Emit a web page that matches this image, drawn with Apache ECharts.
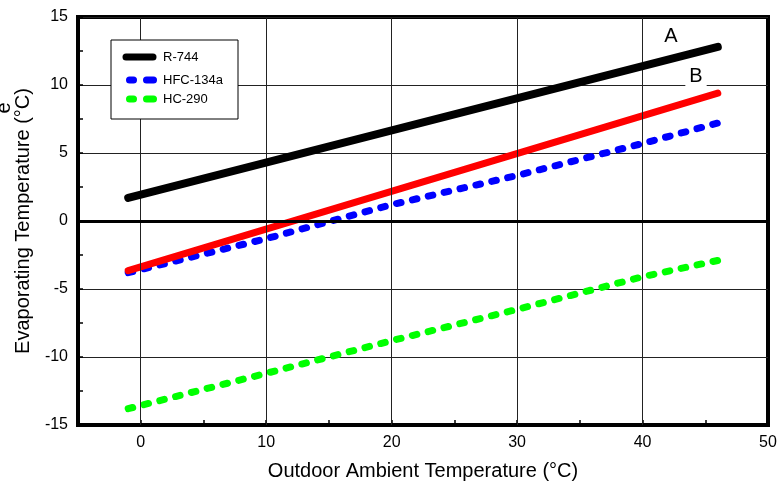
<!DOCTYPE html>
<html>
<head>
<meta charset="utf-8">
<script src="https://cdn.jsdelivr.net/npm/echarts@6/dist/echarts.min.js"></script>
<style>
  html, body { margin: 0; padding: 0; background: #fff; }
  #chart { width: 783px; height: 487px; }
</style>
</head>
<body>
<div id="chart"></div>
<script>
// Outdoor ambient temperature (°C) vs. evaporating temperature (°C)
const r744X = [-1, 46];
const r744Y = [1.7, 12.8];
const curveBX = [-1, 46];
const curveBY = [-3.65, 9.4];
const hfc134aX = [-1, 10, 20, 30, 40, 46];
const hfc134aY = [-3.8, -1.3, 1.2, 3.35, 5.7, 7.2];
const hc290X = [-1, 10, 20, 30, 40, 46];
const hc290Y = [-13.8, -11.2, -8.8, -6.5, -4.1, -2.9];

const xGridValues = [0, 10, 20, 30, 40];
const yZeroLine = 0;
const legendNames = ['R-744', 'HFC-134a', 'HC-290'];
const curveLabels = ['A', 'B'];

const FONT = "'Liberation Sans', Arial, sans-serif";
const pairs = (xs, ys) => xs.map((x, i) => [x, ys[i]]);

const chart = echarts.init(document.getElementById('chart'), null, { renderer: 'canvas' });

const dotted = [4.7, 11.6];

chart.setOption({
  animation: false,
  backgroundColor: '#fff',
  grid: {
    left: 78, right: 15, top: 17, bottom: 62,
    show: true, borderColor: '#000', borderWidth: 4, backgroundColor: 'transparent'
  },
  xAxis: {
    type: 'value', min: -5, max: 50, interval: 5,
    name: 'Outdoor Ambient Temperature (°C)',
    nameLocation: 'middle', nameGap: 36,
    nameTextStyle: { fontFamily: FONT, fontSize: 20, color: '#000' },
    axisLine: { show: true, onZero: false, lineStyle: { color: '#000', width: 4 } },
    axisTick: { show: true, inside: true, length: 5, lineStyle: { color: '#000', width: 1.5 } },
    axisLabel: {
      fontFamily: FONT, fontSize: 16, color: '#000', margin: 10,
      formatter: v => (v % 10 === 0 && v >= 0) ? String(v) : ''
    },
    splitLine: { show: false }
  },
  yAxis: {
    type: 'value', min: -15, max: 15, interval: 5,
    name: 'Evaporating Temperature (°C)',
    nameLocation: 'middle', nameGap: 45,
    nameTextStyle: { fontFamily: FONT, fontSize: 20, color: '#000' },
    axisLine: { show: true, onZero: false, lineStyle: { color: '#000', width: 4 } },
    axisTick: { show: true, inside: true, length: 5, lineStyle: { color: '#000', width: 1.5 } },
    minorTick: { show: true, splitNumber: 2, length: 5, lineStyle: { color: '#000', width: 1.5 } },
    axisLabel: { fontFamily: FONT, fontSize: 16, color: '#000', margin: 10 },
    splitLine: { show: true, lineStyle: { color: '#222', width: 1 } }
  },
  series: [
    {
      // reference lines: vertical grid and the zero line
      type: 'line', data: [], z: 1, silent: true,
      markLine: {
        silent: true, symbol: 'none', animation: false,
        label: { show: false },
        data: [
          ...xGridValues.map(v => ({ xAxis: v, lineStyle: { color: '#222', width: 1, type: 'solid' } })),
          { yAxis: yZeroLine, lineStyle: { color: '#000', width: 3, type: 'solid' } }
        ]
      }
    },
    {
      name: legendNames[1], type: 'line', z: 3, showSymbol: false,
      data: pairs(hfc134aX, hfc134aY),
      lineStyle: { color: '#0000ff', width: 7, type: dotted, cap: 'round' }
    },
    {
      name: legendNames[2], type: 'line', z: 3, showSymbol: false,
      data: pairs(hc290X, hc290Y),
      lineStyle: { color: '#00ff00', width: 7, type: dotted, cap: 'round' }
    },
    {
      name: 'B', type: 'line', z: 4, showSymbol: false,
      data: pairs(curveBX, curveBY),
      lineStyle: { color: '#ff0000', width: 7, cap: 'round' }
    },
    {
      name: legendNames[0], type: 'line', z: 5, showSymbol: false,
      data: pairs(r744X, r744Y),
      lineStyle: { color: '#000', width: 8, cap: 'round' }
    }
  ],
  graphic: [
    // legend box
    { type: 'rect', z: 100, shape: { x: 111, y: 40, width: 127, height: 79 },
      style: { fill: '#fff', stroke: '#000', lineWidth: 1 } },
    { type: 'line', z: 101, shape: { x1: 126, y1: 57, x2: 153, y2: 57 },
      style: { stroke: '#000', lineWidth: 7, lineCap: 'round' } },
    { type: 'line', z: 101, shape: { x1: 129.5, y1: 80, x2: 133.5, y2: 80 },
      style: { stroke: '#0000ff', lineWidth: 7, lineCap: 'round' } },
    { type: 'line', z: 101, shape: { x1: 146.5, y1: 80, x2: 153.5, y2: 80 },
      style: { stroke: '#0000ff', lineWidth: 7, lineCap: 'round' } },
    { type: 'line', z: 101, shape: { x1: 129.5, y1: 99, x2: 133.5, y2: 99 },
      style: { stroke: '#00ff00', lineWidth: 7, lineCap: 'round' } },
    { type: 'line', z: 101, shape: { x1: 146.5, y1: 99, x2: 153.5, y2: 99 },
      style: { stroke: '#00ff00', lineWidth: 7, lineCap: 'round' } },
    { type: 'text', z: 101, x: 163, y: 57,
      style: { text: legendNames[0], font: '13px ' + FONT, fill: '#000', verticalAlign: 'middle' } },
    { type: 'text', z: 101, x: 163, y: 80,
      style: { text: legendNames[1], font: '13px ' + FONT, fill: '#000', verticalAlign: 'middle' } },
    { type: 'text', z: 101, x: 163, y: 99,
      style: { text: legendNames[2], font: '13px ' + FONT, fill: '#000', verticalAlign: 'middle' } },
    // curve labels
    { type: 'text', z: 101, x: 671, y: 36,
      style: { text: curveLabels[0], font: '20px ' + FONT, fill: '#000', align: 'center', verticalAlign: 'middle' } },
    { type: 'text', z: 101, x: 696, y: 76,
      style: { text: curveLabels[1], font: '20px ' + FONT, fill: '#000', align: 'center', verticalAlign: 'middle',
               backgroundColor: '#fff', padding: [1, 4, 1, 4] } },
    // partial secondary axis title at the left edge
    { type: 'text', z: 101, x: 4, y: 108, rotation: Math.PI / 2,
      style: { text: 'e', font: '20px ' + FONT, fill: '#000', align: 'center', verticalAlign: 'middle' } }
  ]
});
</script>
</body>
</html>
